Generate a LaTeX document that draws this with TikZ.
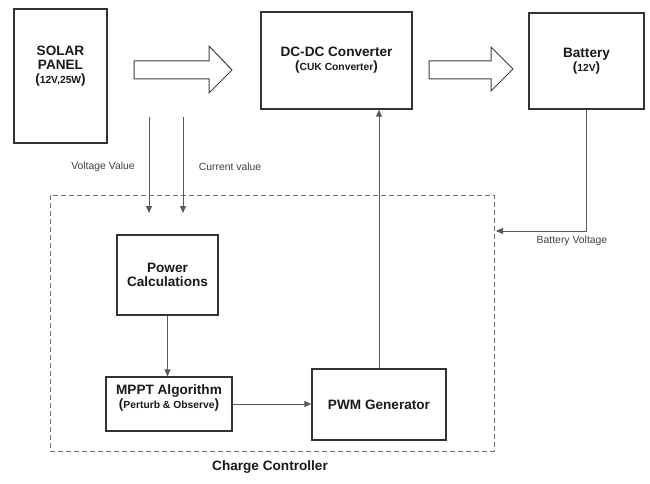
\documentclass[tikz,border=0pt]{standalone}
\usepackage{fontspec}
\setmainfont{Liberation Sans}
\usetikzlibrary{arrows.meta}
\newcommand\subt[1]{{\fontsize{13.5}{14}\selectfont(}{\fontsize{10.3}{14}\selectfont #1}{\fontsize{13.5}{14}\selectfont)}}
\begin{document}
\begin{tikzpicture}[x=1pt,y=-1pt,
  box/.style={draw=black!80, line width=1.3pt, inner sep=0pt},
  conn/.style={draw=black!65, line width=0.9pt, -{Triangle[length=7pt,width=6pt]}},
  title/.style={font=\fontsize{13.6}{14}\selectfont\bfseries, align=center, text=black!90},
  lbl/.style={font=\fontsize{10.4}{12}\selectfont, text=black!75},
  hollow/.style={draw=black!75, line width=1pt, fill=white, line join=miter}]
\useasboundingbox (0,0) rectangle (650,484);

% dashed charge controller region
\node[draw=black!55, line width=0.9pt, dash pattern=on 5pt off 3pt, minimum width=444pt, minimum height=256pt] (cc) at (272,323) {};
\node[title] (cclabel) at (270,467) {Charge Controller};

% top row
\node[box, minimum width=93pt, minimum height=134pt, label={[title, yshift=10pt]center:SOLAR\\PANEL\\\subt{12V,25W}}] (sp) at (60.5,76) {};
\node[box, minimum width=151pt, minimum height=97pt, title] (dc) at (336.5,60.5) {DC-DC Converter\\\subt{CUK Converter}};
\node[box, minimum width=115pt, minimum height=96pt, title] (bat) at (586.5,61) {Battery\\\subt{12V}};

% hollow block arrows
\draw[hollow] (134,61) -- (209,61) -- (209,46) -- (232,70) -- (209,93) -- (209,79) -- (134,79) -- cycle;
\draw[hollow] (429,61) -- (491,61) -- (491,47) -- (513,69) -- (491,91) -- (491,79) -- (429,79) -- cycle;

% inner blocks
\node[box, minimum width=101pt, minimum height=80pt, title] (pc) at (167.5,275) {Power\\Calculations};
\node[box, minimum width=126pt, minimum height=54pt, title] (mppt) at (169,404) {};
\node[title] (mpptt) at (169,398) {MPPT Algorithm\\\subt{Perturb \& Observe}};
\node[box, minimum width=134pt, minimum height=71pt, title] (pwm) at (379,404.5) {PWM Generator};

% measurement inputs
\coordinate (v1) at (149,117);
\coordinate (v2) at (149,213);
\coordinate (i1) at (183,117);
\coordinate (i2) at (183,213);
\draw[conn] (v1) -- (v2);
\draw[conn] (i1) -- (i2);
\node[lbl] (vl) at (103,167) {Voltage Value};
\node[lbl] (il) at (230,167) {Current value};

% battery voltage feedback
\coordinate (bvin) at (496,231);
\draw[conn] (bat.south) |- (bvin);
\node[lbl] (bvl) at (572,241) {Battery Voltage};

% internal connections
\draw[conn] (pc.south) -- (pc.south |- mppt.north);
\draw[conn] (mppt.east) -- (mppt.east -| pwm.west);
\draw[conn] (pwm.north) -- (pwm.north |- dc.south);
\end{tikzpicture}
\end{document}
